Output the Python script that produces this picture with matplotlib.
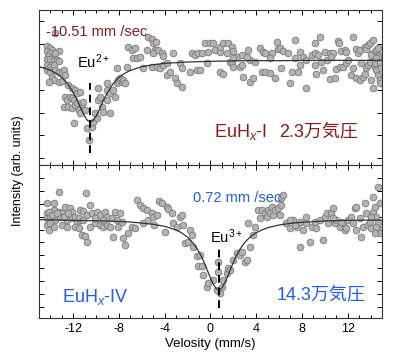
import numpy as np
import matplotlib
matplotlib.use("Agg")
import matplotlib.pyplot as plt
from matplotlib.ticker import MultipleLocator

plt.rcParams["font.family"] = ["Liberation Sans", "Noto Sans CJK JP", "DejaVu Sans"]
plt.rcParams["axes.unicode_minus"] = False
plt.rcParams["mathtext.fontset"] = "custom"
plt.rcParams["mathtext.rm"] = "Liberation Sans"
plt.rcParams["mathtext.it"] = "Liberation Sans:italic"

# ---- EuHx-I (2.3万気圧), velocity in mm/s, intensity in arb. units
top_vel = [-14.31, -14.08, -14.31, -13.87, -14.08, -14.25, -13.73, -13.29, -14.31, -14.02,
           -13.73, -13.44, -13.58, -14.31, -14.02, -13.73, -13.29, -14.31, -14.02, -13.64,
           -13.29, -13.00, -12.85, -13.87, -13.73, -13.29, -13.00, -14.16, -13.64, -12.71,
           -12.42, -12.13, -11.84, -11.69, -11.40, -12.71, -12.56, -12.27, -12.13, -11.98,
           -12.85, -12.42, -12.13, -11.84, -11.69, -11.25, -11.11, -11.54, -11.40, -10.96,
           -11.98, -10.82, -10.67, -10.38, -10.24, -9.94, -10.09, -9.80, -9.51, -9.65,
           -9.07, -9.36, -8.78, -9.07, -9.80, -9.07, -8.78, -8.49, -8.34, -8.20,
           -8.05, -7.91, -7.76, -7.61, -7.47, -8.20, -7.32, -7.18, -6.89, -6.59,
           -6.74, -6.45, -6.16, -5.87, -5.58, -5.43, -5.14, -5.00, -4.76, -4.85,
           -5.00, -4.56, -4.27, -4.12, -5.14, -4.70, -4.41, -4.12, -3.83, -3.83,
           -3.54, -3.25, -2.66, -2.52, -3.10, -2.96, -2.52, -1.79, -1.65, -1.36,
           -1.06, -1.21,
           -0.77, -0.48, -0.04, 0.25, -0.19, 0.39, 0.83, 0.83, 1.12, 1.56,
           1.85, 1.99, 1.41, 2.29, 2.72, 3.30, 3.45, 3.89, 4.32, 4.62,
           4.76, 5.34, 5.20, 5.78, 5.92, 6.07, 6.36, 6.80, 7.38, 7.82,
           8.11, 8.40, 8.84, 9.13, 9.13, 9.42, 9.56, 10.00, 10.15, 10.44,
           10.73, 11.16, 11.25, 11.46, 11.75, 11.89, 12.48, 12.77, 12.91, 13.06,
           13.49, 13.64, 13.78, 13.93, 14.22, 14.22, 14.51, 14.66, 14.75, 14.80,
           -0.92, -0.33, 0.83, 1.12, 1.70, 1.85, 1.99, 2.58, 2.72, 2.87,
           3.45, 3.74, 4.47, 4.76, 5.20, 5.63, 6.16, 6.94, 7.09, 7.67,
           7.82, 8.40, 9.13, 9.27, 9.86, 10.44, 10.87, 11.02, 11.31, 11.60,
           11.89, 12.48, 12.33, 12.77, 13.06, 13.35, 13.49, 13.64, 13.78, 13.93,
           14.08, 14.22, 14.37, 14.51, 14.66, 14.80, 14.80, 14.51, 14.66, 14.37,
           1.99, 3.16, 7.38, 9.71, 10.58, 12.04, 13.20, 14.08, 14.51, 14.80, 14.95]
top_int = [3.43, 3.37, 3.28, 3.30, 3.20, 3.12, 3.10, 3.28, 3.02, 3.02,
           3.00, 3.00, 3.20, 2.85, 2.80, 2.85, 2.98, 2.70, 2.65, 2.70,
           2.65, 2.65, 2.70, 2.50, 2.40, 2.35, 2.37, 2.35, 3.82, 2.55,
           2.25, 2.15, 2.10, 2.00, 2.05, 1.90, 1.80, 1.90, 1.85, 1.80,
           1.60, 1.60, 1.55, 1.65, 1.70, 1.65, 1.75, 1.50, 1.40, 1.50,
           1.10, 0.95, 0.60, 1.00, 1.15, 1.25, 1.40, 1.80, 1.60, 1.90,
           1.80, 1.45, 1.40, 2.10, 2.15, 2.30, 2.00, 2.10, 1.90, 2.30,
           2.40, 2.45, 2.35, 2.40, 2.30, 2.75, 2.80, 3.40, 3.30, 3.35,
           3.05, 3.05, 3.10, 2.75, 3.30, 3.70, 3.62, 3.50, 3.55, 3.30,
           3.20, 3.30, 3.20, 3.12, 2.80, 2.80, 2.75, 2.85, 2.90, 2.55,
           2.65, 3.20, 2.90, 2.75, 2.45, 2.30, 2.18, 2.65, 3.20, 3.15,
           3.20, 2.70,
           3.20, 3.50, 3.50, 3.52, 3.25, 3.30, 3.25, 3.40, 3.50, 3.52,
           3.40, 3.28, 3.20, 3.10, 3.15, 3.30, 3.00, 2.95, 3.35, 3.25,
           3.20, 3.22, 3.05, 3.55, 3.32, 3.35, 3.28, 3.22, 3.60, 3.25,
           3.10, 3.00, 3.15, 3.20, 3.50, 3.15, 3.70, 3.25, 3.00, 3.20,
           3.22, 3.58, 3.52, 3.28, 3.30, 3.25, 3.70, 3.32, 3.22, 3.30,
           3.40, 3.32, 3.45, 3.50, 3.60, 3.20, 3.30, 3.35, 3.15, 3.05,
           2.70, 2.90, 2.65, 2.58, 2.95, 2.90, 2.80, 2.80, 2.85, 2.50,
           2.35, 2.45, 2.65, 2.65, 2.62, 2.45, 2.75, 2.32, 2.65, 2.65,
           2.85, 2.15, 2.85, 2.58, 2.70, 2.43, 2.45, 2.73, 2.80, 2.80,
           2.90, 2.75, 2.55, 2.45, 2.40, 2.50, 2.58, 2.75, 2.85, 2.95,
           2.40, 2.15, 2.80, 2.70, 2.55, 2.40, 2.30, 3.00, 3.10, 2.90,
           3.05, 3.10, 3.05, 2.95, 3.10, 3.00, 2.90, 3.15, 3.05, 2.90, 2.75]

top_fit_vel = [-15, -14.5, -14, -13.5, -13, -12.5, -12, -11.75, -11.5, -11.25, -11, -10.75,
               -10.5, -10.25, -10, -9.75, -9.5, -9.25, -9, -8.5, -8, -7.5, -7, -6, -5, -4,
               -2, 0, 3, 6, 9, 12, 15]
top_fit_int = [2.80, 2.75, 2.69, 2.60, 2.47, 2.29, 2.02, 1.85, 1.67, 1.48, 1.31, 1.18,
               1.14, 1.19, 1.32, 1.49, 1.68, 1.87, 2.03, 2.30, 2.48, 2.60, 2.69, 2.80, 2.86, 2.90,
               2.94, 2.96, 2.98, 2.98, 2.99, 2.99, 2.99]

# ---- EuHx-IV (14.3万気圧)
bot_vel = [-14.31, -13.73, -13.29, -10.87, -10.53, -14.31, -14.02, -13.73, -13.29, -13.00,
           -12.71, -12.27, -12.13, -11.40, -11.11, -14.31, -14.02, -13.58, -13.15, -12.56,
           -12.13, -11.69, -11.40, -10.82, -10.38, -9.94, -9.65, -9.22, -9.07, -8.63,
           -8.20, -14.31, -14.02, -14.16, -13.73, -13.00, -12.56, -11.84, -11.54, -11.25,
           -10.96, -10.76, -10.53, -10.09, -9.65, -9.36, -9.07, -8.78, -8.49, -8.05,
           -7.76, -7.61, -7.47, -7.18, -6.89, -6.59, -6.45, -6.16, -5.87, -5.58,
           -5.87, -5.43, -5.14, -5.00, -4.70, -4.47, -4.21, -4.93, -3.98, -3.83,
           -3.68, -3.39, -3.25, -2.96, -2.66, -2.52, -2.37, -2.23, -1.94, -1.79,
           -1.65, -1.50, -1.21, -1.06,
           -14.16, -13.87, -13.44, -12.85, -12.42, -11.84, -11.54, -11.11, -10.09, -9.36,
           -8.34, -7.91,
           -0.92, -0.77, -0.63, -0.33, -0.19, 0.25, 0.68, 0.83, 0.54, 0.98,
           0.68, 1.12, 1.41, 1.56, 1.70, 1.99, 2.29, 2.58, 2.72, 3.01,
           3.16, 3.45, 3.30, 3.74, 3.89, 4.18, 4.47, 4.32, 4.76, 4.91,
           5.05, 5.20, 5.34, 5.49, 5.63, 5.92, 6.07, 6.21, 6.65, 6.94,
           7.23, 7.53, 7.82, 7.82, 8.11, 8.40, 8.40, 8.69, 8.84, 9.13,
           9.27, 9.56, 9.86, 10.00, 10.15, 10.29, 10.58, 10.73, 10.87, 11.02,
           11.31, 11.60, 11.75, 11.89, 12.04, 12.33, 12.62, 12.77, 13.06, 13.20,
           13.35, 13.49, 13.64, 13.78, 13.93, 14.08, 14.22, 14.22, 14.37, 14.51,
           14.66, 14.66, 14.80, 14.80, 14.80, 14.51, 14.37, 14.08,
           6.21, 6.36, 6.94, 7.38, 10.73, 11.46, 12.48, 12.77]
bot_int = [3.44, 3.44, 3.79, 3.74, 3.39, 3.14, 3.19, 3.24, 3.19, 3.14,
           3.34, 3.29, 3.19, 3.24, 3.22, 2.99, 3.04, 2.94, 3.04, 2.94,
           2.99, 2.89, 2.94, 3.09, 3.14, 3.19, 3.09, 3.19, 3.04, 2.99,
           2.94, 2.79, 2.84, 2.64, 2.74, 2.79, 2.74, 2.74, 2.69, 2.49,
           2.46, 2.29, 2.74, 2.84, 2.79, 2.74, 2.79, 2.74, 2.44, 2.74,
           2.89, 2.39, 2.19, 2.54, 2.74, 2.69, 3.54, 3.39, 3.29, 3.24,
           2.84, 2.94, 3.14, 3.04, 3.09, 3.52, 3.46, 2.79, 2.59, 3.34,
           3.26, 3.14, 2.84, 2.74, 3.04, 3.09, 2.79, 2.24, 2.29, 2.64,
           2.49, 2.14, 1.86, 1.56,
           3.19, 3.09, 3.14, 3.04, 3.14, 3.04, 2.99, 2.94, 2.99, 2.94,
           3.19, 3.14,
           1.89, 1.56, 1.29, 0.94, 1.04, 1.14, 1.39, 0.74, 0.84, 0.94,
           1.69, 1.14, 1.34, 1.49, 1.44, 1.74, 1.94, 1.89, 1.99, 1.69,
           1.74, 2.14, 2.84, 2.49, 2.74, 3.24, 3.24, 2.99, 3.14, 3.04,
           3.24, 3.14, 3.34, 3.09, 3.24, 3.29, 3.09, 3.39, 2.84, 2.69,
           2.94, 2.74, 2.14, 2.89, 2.64, 2.84, 3.04, 2.29, 2.74, 2.89,
           2.69, 2.94, 2.34, 3.04, 3.14, 2.84, 3.14, 3.29, 2.84, 2.94,
           2.74, 2.84, 2.64, 2.69, 2.94, 3.04, 3.29, 3.34, 2.99, 2.44,
           2.74, 3.46, 3.14, 2.79, 2.89, 2.69, 3.64, 3.19, 3.34, 3.04,
           3.94, 2.84, 3.44, 2.64, 2.54, 2.74, 2.54, 3.04,
           3.59, 3.69, 2.94, 2.79, 2.99, 2.89, 2.84, 2.64]

bot_fit_vel = [-15, -12, -9, -7, -5, -4, -3, -2.5, -2, -1.5, -1, -0.75, -0.5, -0.25, 0,
               0.25, 0.5, 0.72, 1.0, 1.25, 1.5, 1.75, 2, 2.25, 2.5, 3, 3.5, 4, 4.5, 5,
               6, 7, 8, 10, 12, 15]
bot_fit_int = [2.95, 2.93, 2.91, 2.88, 2.81, 2.75, 2.64, 2.55, 2.42, 2.24, 1.98, 1.82, 1.62,
               1.41, 1.20, 1.01, 0.88, 0.84, 0.90, 1.05, 1.25, 1.46, 1.67, 1.86, 2.02, 2.27,
               2.44, 2.56, 2.64, 2.71, 2.79, 2.84, 2.87, 2.91, 2.93, 2.94]

eu2_pos = -10.51
eu3_pos = 0.72

red = "#8b1a1a"
blue = "#1f5cf0"

fig = plt.figure(figsize=(3.96, 3.64), dpi=100)
ax1 = fig.add_axes([0.0985, 0.5467, 0.866, 0.4258])
ax2 = fig.add_axes([0.0985, 0.1264, 0.866, 0.4203])

pt = dict(marker="o", ls="none", ms=4.8, mfc="#b3b3b3", mec="#7a7a7a", mew=0.6)

ax1.plot(top_vel, top_int, **pt)
ax1.plot(top_fit_vel, top_fit_int, color="#333333", lw=0.9)
ax1.plot([eu2_pos, eu2_pos], [0.2, 2.3], color="black", lw=1.4, ls=(0, (4, 2.5)))
ax1.text(-11.65, 2.95, "Eu$^{2+}$", fontsize=10.5, va="center")
ax1.text(-14.4, 3.85, "-10.51 mm /sec", fontsize=10.5, color=red, va="center")
ax1.text(4.95, 0.85, "EuH$_x$-I", fontsize=13, color=red, va="center", ha="right")
ax1.text(12.9, 0.85, "2.3万気圧", fontsize=13, color=red, va="center", ha="right")
ax1.set_ylim(-0.15, 4.5)
ax1.set_yticks([0.05, 0.74, 1.42, 2.10, 2.79, 3.47, 4.16])

ax2.plot(bot_vel, bot_int, **pt)
ax2.plot(bot_fit_vel, bot_fit_int, color="#333333", lw=0.9)
ax2.plot([eu3_pos, eu3_pos], [0.29, 2.09], color="black", lw=1.4, ls=(0, (4, 2.5)))
ax2.text(0.0, 2.44, "Eu$^{3+}$", fontsize=10.5, va="center")
ax2.text(-1.55, 3.6, "0.72 mm /sec", fontsize=10.5, color=blue, va="center")
ax2.text(-13.0, 0.64, "EuH$_x$-IV", fontsize=13, color=blue, va="center")
ax2.text(13.6, 0.69, "14.3万気圧", fontsize=13, color=blue, va="center", ha="right")
ax2.set_ylim(0, 4.59)
ax2.set_yticks([0.34, 0.72, 1.11, 1.50, 1.88, 2.27, 2.65, 3.04, 3.42, 3.81, 4.19])

for ax in (ax1, ax2):
    ax.set_xlim(-15, 15)
    ax.xaxis.set_major_locator(MultipleLocator(4))
    ax.xaxis.set_minor_locator(MultipleLocator(1))
    ax.tick_params(which="both", direction="in", top=True, right=True, width=0.7, labelsize=9)
    ax.tick_params(which="major", length=3.5)
    ax.tick_params(which="minor", length=2)
    ax.set_yticklabels([])
    for s in ax.spines.values():
        s.set_linewidth(0.8)
        s.set_color("#333333")

ax1.set_xticklabels([])
ax2.set_xticks([-12, -8, -4, 0, 4, 8, 12])
ax2.set_xticklabels(["-12", "-8", "-4", "0", "4", "8", "12"])
ax2.set_xlabel("Velosity (mm/s)", fontsize=9.5, labelpad=2)
fig.text(0.045, 0.53, "Intensity (arb. units)", rotation=90, fontsize=9, ha="center", va="center")

fig.savefig("out.png", dpi=100)
